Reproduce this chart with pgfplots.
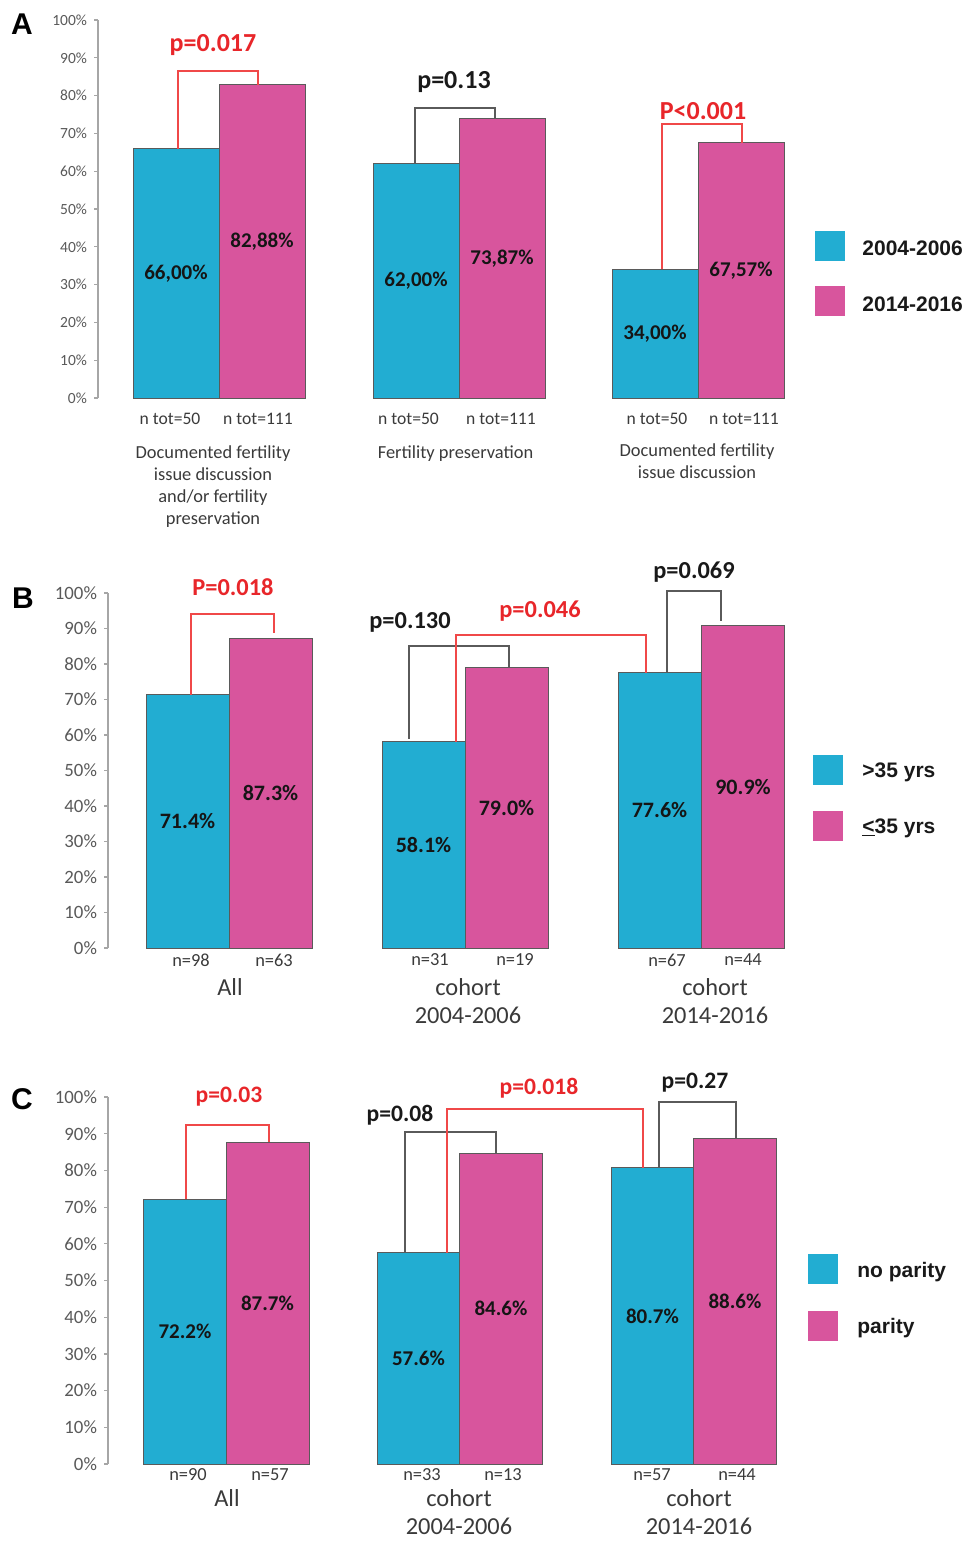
\documentclass[border=0pt]{standalone}
\usepackage{pgfplots}
\pgfplotsset{compat=1.18}
\usepackage{fontspec}
\setmainfont{Carlito}
\newfontfamily\arialf{Liberation Sans}
\definecolor{cy}{HTML}{22ADD2}
\definecolor{pk}{HTML}{D8559D}
\definecolor{pred}{HTML}{E8262A}
\definecolor{lred}{HTML}{F04848}
\definecolor{brk}{HTML}{5A5A5A}
\definecolor{axg}{HTML}{A6A6A6}
\definecolor{tlab}{HTML}{595959}
\definecolor{txt}{HTML}{3A3A3A}
\definecolor{vlab}{HTML}{151515}

\pgfplotsset{
  panel/.style={
    scale only axis, clip=false,
    axis x line=none, axis y line*=left,
    y axis line style={-, draw=axg, line width=0.6pt},
    ymin=0, ymax=100, ytick={0,10,20,30,40,50,60,70,80,90,100},
    yticklabels={0\%,10\%,20\%,30\%,40\%,50\%,60\%,70\%,80\%,90\%,100\%},
    tick align=outside, major tick length=2pt,
    ytick style={draw=axg, line width=0.6pt},
    yticklabel style={text=tlab},
    xtick=\empty,
  },
  barc/.style={ybar, bar shift=0pt, fill=cy, draw=brk, line width=0.5pt},
  barp/.style={ybar, bar shift=0pt, fill=pk, draw=brk, line width=0.5pt},
}
\tikzset{
  vl/.style={font=\fontsize{10.5pt}{12pt}\selectfont\bfseries, text=vlab, inner sep=0pt},
  pr/.style={font=\fontsize{#1}{14pt}\selectfont\bfseries, text=pred, inner sep=0pt},
  pb/.style={font=\fontsize{#1}{14pt}\selectfont\bfseries, text=black!90, inner sep=0pt},
  rb/.style={draw=lred, line width=0.75pt},
  gb/.style={draw=brk, line width=0.75pt},
}

\begin{document}
\begin{tikzpicture}
\begin{scope}[x=0.5pt,y=-0.5pt]
\path[use as bounding box] (0,0) rectangle (970,1541);
\end{scope}

% ---------------- Panel A ----------------
\begin{axis}[panel, at={(49pt,-199pt)}, anchor=south west,
  width=351pt, height=189pt, xmin=98, xmax=800,
  yticklabel style={font=\fontsize{7.75pt}{9pt}\selectfont}]
\addplot[barc, bar width=43pt] coordinates {(176,66.00) (416,62.00) (655,34.00)};
\addplot[barp, bar width=43pt] coordinates {(262,82.88) (502,73.87) (741,67.57)};
\node[vl] at (axis cs:176,33.0) {66,00\%};
\node[vl] at (axis cs:262,41.44) {82,88\%};
\node[vl] at (axis cs:416,31.0) {62,00\%};
\node[vl] at (axis cs:502,36.94) {73,87\%};
\node[vl] at (axis cs:655,17.0) {34,00\%};
\node[vl] at (axis cs:741,33.8) {67,57\%};
\draw[rb] (axis cs:178,66.0) |- (axis cs:258,86.5) -- (axis cs:258,82.88);
\draw[gb] (axis cs:415,62.0) |- (axis cs:495,76.7) -- (axis cs:495,73.87);
\draw[rb] (axis cs:662,34.0) |- (axis cs:742,72.5) -- (axis cs:742,67.57);
\node[pr=13pt] at (axis cs:213,93.4) {p=0.017};
\node[pb=13pt] at (axis cs:454,83.6) {p=0.13};
\node[pr=13pt] at (axis cs:703,75.9) {P<0.001};
\end{axis}

% ---------------- Panel B ----------------
\begin{axis}[panel, at={(54pt,-474pt)}, anchor=south west,
  width=346pt, height=177.5pt, xmin=108, xmax=800,
  yticklabel style={font=\fontsize{9.4pt}{11pt}\selectfont}]
\addplot[barc, bar width=41.5pt] coordinates {(187.5,71.4) (423.5,58.1) (659.5,77.6)};
\addplot[barp, bar width=41.5pt] coordinates {(270.5,87.3) (506.5,79.0) (743,90.9)};
\node[vl, font=\fontsize{11pt}{12pt}\selectfont\bfseries] at (axis cs:187.5,35.7) {71.4\%};
\node[vl, font=\fontsize{11pt}{12pt}\selectfont\bfseries] at (axis cs:270.5,43.65) {87.3\%};
\node[vl, font=\fontsize{11pt}{12pt}\selectfont\bfseries] at (axis cs:423.5,29.05) {58.1\%};
\node[vl, font=\fontsize{11pt}{12pt}\selectfont\bfseries] at (axis cs:506.5,39.5) {79.0\%};
\node[vl, font=\fontsize{11pt}{12pt}\selectfont\bfseries] at (axis cs:659.5,38.8) {77.6\%};
\node[vl, font=\fontsize{11pt}{12pt}\selectfont\bfseries] at (axis cs:743,45.45) {90.9\%};
\draw[rb] (axis cs:191,71.4) |- (axis cs:274,94.1) -- (axis cs:274,88.7);
\draw[gb] (axis cs:409,58.9) |- (axis cs:509,85.1) -- (axis cs:509,79.0);
\draw[gb] (axis cs:667,77.6) |- (axis cs:721,100.6) -- (axis cs:721,92.1);
\draw[rb] (axis cs:456,58.1) |- (axis cs:646,88.2) -- (axis cs:646,77.6);
\node[pr=12.2pt] at (axis cs:233,101.7) {P=0.018};
\node[pb=12.2pt] at (axis cs:410,91.8) {p=0.130};
\node[pr=12.2pt] at (axis cs:540,94.9) {p=0.046};
\node[pb=12.2pt] at (axis cs:694,105.9) {p=0.069};
\end{axis}

% ---------------- Panel C ----------------
\begin{axis}[panel, at={(54pt,-732pt)}, anchor=south west,
  width=346pt, height=183.5pt, xmin=108, xmax=800,
  yticklabel style={font=\fontsize{9.4pt}{11pt}\selectfont}]
\addplot[barc, bar width=41.5pt] coordinates {(185,72.2) (418.5,57.6) (652.5,80.7)};
\addplot[barp, bar width=41.5pt] coordinates {(267.5,87.7) (501,84.6) (735,88.6)};
\node[vl] at (axis cs:185,36.1) {72.2\%};
\node[vl] at (axis cs:267.5,43.85) {87.7\%};
\node[vl] at (axis cs:418.5,28.8) {57.6\%};
\node[vl] at (axis cs:501,42.3) {84.6\%};
\node[vl] at (axis cs:652.5,40.35) {80.7\%};
\node[vl] at (axis cs:735,44.3) {88.6\%};
\draw[rb] (axis cs:186,72.2) |- (axis cs:269,92.4) -- (axis cs:269,87.7);
\draw[gb] (axis cs:405,57.6) |- (axis cs:496,90.5) -- (axis cs:496,84.6);
\draw[gb] (axis cs:659,80.7) |- (axis cs:736,98.6) -- (axis cs:736,88.6);
\draw[rb] (axis cs:447,57.6) |- (axis cs:643,96.7) -- (axis cs:643,80.7);
\node[pr=11.8pt] at (axis cs:229,100.0) {p=0.03};
\node[pb=11.8pt] at (axis cs:400,95.1) {p=0.08};
\node[pr=11.8pt] at (axis cs:539,102.5) {p=0.018};
\node[pb=11.8pt] at (axis cs:695,103.8) {p=0.27};
\end{axis}

% ---------------- text, legends ----------------
\begin{scope}[x=0.5pt,y=-0.5pt]
\tikzset{
  lt/.style={font=\arialf\bfseries\fontsize{15pt}{17pt}\selectfont, inner sep=0pt},
  lg/.style={font=\arialf\bfseries\fontsize{10.5pt}{12pt}\selectfont, inner sep=0pt, anchor=base west, text=black!90},
  nA/.style={font=\fontsize{8.8pt}{10pt}\selectfont, inner sep=0pt, text=txt},
  cA/.style={font=\fontsize{9.2pt}{11pt}\selectfont, inner sep=0pt, text=txt, align=center},
  nB/.style={font=\fontsize{9.2pt}{10pt}\selectfont, inner sep=0pt, text=txt},
  cB/.style={font=\fontsize{12.2pt}{14pt}\selectfont, inner sep=0pt, text=txt, align=center},
}
\node[lt] at (22,24) {A};
\node[lt] at (23,598) {B};
\node[lt] at (22,1099) {C};

% Panel A x labels
\node[nA] at (170,419) {n tot=50};
\node[nA] at (258,419) {n tot=111};
\node[nA] at (408.5,419) {n tot=50};
\node[nA] at (501,419) {n tot=111};
\node[nA] at (657,419) {n tot=50};
\node[nA] at (744,419) {n tot=111};
\node[cA] at (213,487) {Documented fertility\\issue discussion\\and/or fertility\\preservation};
\node[cA] at (455.5,454) {Fertility preservation};
\node[cA] at (697,461) {Documented fertility\\issue discussion};

% Panel B x labels
\node[nB] at (191,960) {n=98};
\node[nB] at (274,960) {n=63};
\node[nB] at (430,960) {n=31};
\node[nB] at (515,960) {n=19};
\node[nB] at (667,960) {n=67};
\node[nB] at (743,960) {n=44};
\node[cB] at (230,987) {All};
\node[cB] at (468,1001) {cohort\\2004-2006};
\node[cB] at (715,1001) {cohort\\2014-2016};

% Panel C x labels
\node[nB] at (188,1475) {n=90};
\node[nB] at (270,1475) {n=57};
\node[nB] at (422,1475) {n=33};
\node[nB] at (503,1475) {n=13};
\node[nB] at (652,1475) {n=57};
\node[nB] at (737,1475) {n=44};
\node[cB] at (227,1498) {All};
\node[cB] at (459,1512) {cohort\\2004-2006};
\node[cB] at (699,1512) {cohort\\2014-2016};

% Legends
\fill[cy] (815,231) rectangle (845,261);
\node[lg] at (862,255) {2004-2006};
\fill[pk] (815,286) rectangle (845,316);
\node[lg] at (862,311) {2014-2016};

\fill[cy] (813,755) rectangle (843,785);
\node[lg] at (862,777) {>35 yrs};
\fill[pk] (813,811) rectangle (843,841);
\node[lg] at (862,833) {\underline{<}35 yrs};

\fill[cy] (808,1254) rectangle (838,1284);
\node[lg] at (857,1277) {no parity};
\fill[pk] (808,1311) rectangle (838,1341);
\node[lg] at (857,1333) {parity};
\end{scope}
\end{tikzpicture}
\end{document}
